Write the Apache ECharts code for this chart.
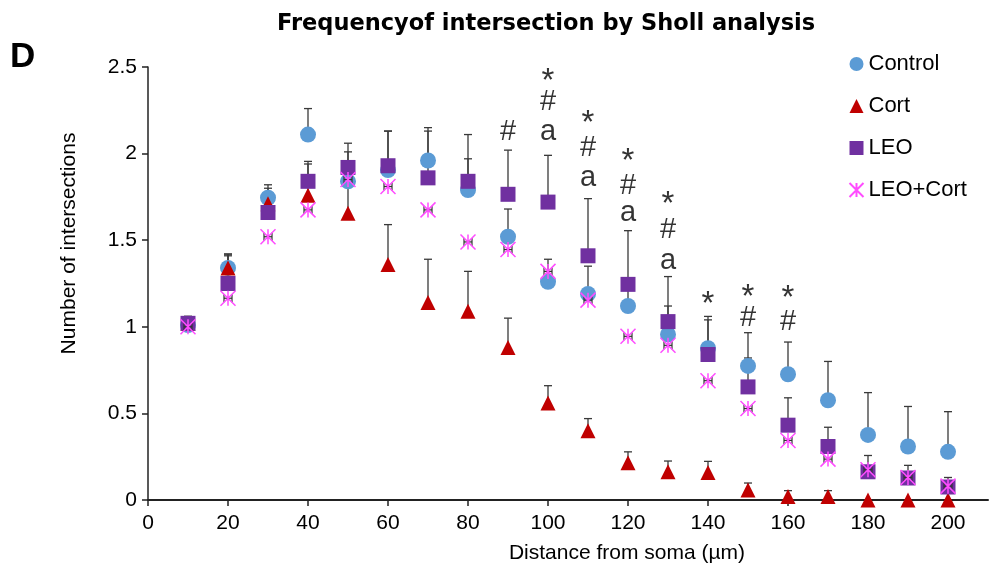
<!DOCTYPE html>
<html>
<head>
<meta charset="utf-8">
<script src="https://cdn.jsdelivr.net/npm/echarts@6/dist/echarts.min.js"></script>
<style>
  html, body { margin: 0; padding: 0; background: #fff; }
  #chart { width: 989px; height: 567px; }
</style>
</head>
<body>
<div id="chart"></div>
<script>
// ---------- data ----------
const distances = [10, 20, 30, 40, 50, 60, 70, 80, 90, 100, 110, 120, 130, 140, 150, 160, 170, 180, 190, 200];
const xTickValues = [0, 20, 40, 60, 80, 100, 120, 140, 160, 180, 200];

const controlMean = [1.01, 1.34, 1.745, 2.11, 1.84, 1.905, 1.96, 1.79, 1.52, 1.26, 1.19, 1.12, 0.956, 0.876, 0.774, 0.726, 0.576, 0.376, 0.309, 0.278];
const controlTop  = [1.06, 1.42, 1.82, 2.26, 2.06, 2.13, 2.15, 2.11, 1.68, 1.39, 1.35, 1.22, 1.12, 1.06, 0.966, 0.912, 0.80, 0.62, 0.54, 0.51];

const cortMean = [1.02, 1.34, 1.71, 1.76, 1.655, 1.36, 1.14, 1.09, 0.88, 0.56, 0.40, 0.215, 0.163, 0.159, 0.058, 0.02, 0.02, 0, 0, 0];
const cortTop  = [1.05, 1.41, 1.78, 1.94, 1.84, 1.59, 1.39, 1.32, 1.05, 0.66, 0.47, 0.278, 0.225, 0.223, 0.098, 0.054, 0.054, 0, 0, 0];

const leoMean = [1.02, 1.25, 1.66, 1.84, 1.92, 1.93, 1.86, 1.84, 1.765, 1.72, 1.41, 1.245, 1.03, 0.84, 0.653, 0.432, 0.309, 0.163, 0.127, 0.075];
const leoTop  = [1.06, 1.42, 1.80, 1.955, 2.01, 2.13, 2.13, 1.97, 2.02, 1.99, 1.74, 1.555, 1.29, 1.04, 0.82, 0.59, 0.42, 0.257, 0.20, 0.13];

const leoCortMean = [1.0, 1.165, 1.52, 1.675, 1.85, 1.81, 1.675, 1.49, 1.446, 1.32, 1.154, 0.945, 0.893, 0.689, 0.528, 0.344, 0.236, 0.175, 0.13, 0.08];

// significance marks
const annoX    = [90, 100, 100, 100, 110, 110, 110, 120, 120, 120, 130, 130, 130, 140, 150, 150, 160, 160];
const annoY    = [2.125, 2.43, 2.30, 2.125, 2.19, 2.03, 1.86, 1.97, 1.815, 1.655, 1.72, 1.56, 1.38, 1.145, 1.187, 1.05, 1.176, 1.03];
const annoText = ['#', '*', '#', 'a', '*', '#', 'a', '*', '#', 'a', '*', '#', 'a', '*', '*', '#', '*', '#'];

const seriesNames = ['Control', 'Cort', 'LEO', 'LEO+Cort'];

// ---------- build ----------
const FONT = '"Liberation Sans", Arial, sans-serif';
const pts = (ys) => distances.map((x, i) => [x, ys[i]]);
const errData = (means, tops) => distances.map((x, i) => [x, means[i], tops[i]]).filter(d => d[2] > d[1]);
const allErr = [].concat(errData(controlMean, controlTop), errData(cortMean, cortTop), errData(leoMean, leoTop));

const chart = echarts.init(document.getElementById('chart'), null, { renderer: 'canvas' });

const option = {
  animation: false,
  backgroundColor: '#ffffff',
  textStyle: { fontFamily: FONT },
  title: [
    { text: 'Frequencyof intersection by Sholl analysis', left: 272, top: 8,
      textStyle: { fontFamily: '"DejaVu Sans", sans-serif', fontWeight: 'bold', fontSize: 22.5, color: '#000' } },
    { text: 'D', left: 5, top: 35,
      textStyle: { fontFamily: FONT, fontWeight: 'bold', fontSize: 35, color: '#000' } }
  ],
  legend: {
    orient: 'vertical', left: 842, top: 48,
    itemWidth: 14, itemHeight: 14, itemGap: 20,
    data: seriesNames,
    textStyle: { fontFamily: FONT, fontSize: 22, color: '#000' }
  },
  grid: { left: 148, right: 1, top: 67, bottom: 67, containLabel: false, outerBoundsMode: 'none' },
  xAxis: {
    type: 'value', min: 0, max: 210,
    name: 'Distance from soma (µm)', nameLocation: 'middle', nameGap: 43,
    nameTextStyle: { fontFamily: FONT, fontSize: 21, color: '#000', padding: [0, 0, 0, 118] },
    axisLine: { lineStyle: { color: '#222', width: 2 } },
    axisTick: { show: true, length: 6, lineStyle: { color: '#222', width: 1.5 }, customValues: xTickValues },
    axisLabel: { fontFamily: FONT, fontSize: 21, color: '#000', margin: 13, customValues: xTickValues },
    splitLine: { show: false }
  },
  yAxis: {
    type: 'value', min: 0, max: 2.5, interval: 0.5,
    name: 'Number of intersections', nameLocation: 'middle', nameGap: 68,
    nameTextStyle: { fontFamily: FONT, fontSize: 21, color: '#000', padding: [0, 0, 0, 80] },
    axisLine: { show: true, lineStyle: { color: '#222', width: 1.5 } },
    axisTick: { show: true, length: 6, lineStyle: { color: '#222', width: 1.5 } },
    axisLabel: { fontFamily: FONT, fontSize: 21, color: '#000', margin: 11 },
    splitLine: { show: false }
  },
  series: [
    {
      type: 'custom', name: 'errors', silent: true, z: 1,
      data: allErr,
      renderItem: (params, api) => {
        const p1 = api.coord([api.value(0), api.value(1)]);
        const p2 = api.coord([api.value(0), api.value(2)]);
        const st = { stroke: '#3a3a3a', lineWidth: 1.3 };
        return { type: 'group', children: [
          { type: 'line', shape: { x1: p1[0], y1: p1[1], x2: p2[0], y2: p2[1] }, style: st },
          { type: 'line', shape: { x1: p2[0] - 4, y1: p2[1], x2: p2[0] + 4, y2: p2[1] }, style: st }
        ]};
      }
    },
    { name: 'Control', type: 'scatter', z: 2, symbol: 'circle', symbolSize: 16,
      itemStyle: { color: '#5B9BD5', opacity: 1 }, data: pts(controlMean) },
    { name: 'Cort', type: 'scatter', z: 3, symbol: 'triangle', symbolSize: 15,
      itemStyle: { color: '#C00000', opacity: 1 }, data: pts(cortMean) },
    { name: 'LEO', type: 'scatter', z: 4, symbol: 'rect', symbolSize: 15,
      itemStyle: { color: '#7030A0', opacity: 1 }, data: pts(leoMean) },
    {
      type: 'custom', name: 'leoCortErr', silent: true, z: 5,
      data: pts(leoCortMean),
      renderItem: (params, api) => {
        const c = api.coord([api.value(0), api.value(1)]);
        const st = { stroke: '#333', lineWidth: 1.2 };
        return { type: 'group', children: [
          { type: 'line', shape: { x1: c[0] - 4, y1: c[1], x2: c[0] + 4, y2: c[1] }, style: st },
          { type: 'line', shape: { x1: c[0] - 4, y1: c[1] - 4, x2: c[0] - 4, y2: c[1] + 4 }, style: st },
          { type: 'line', shape: { x1: c[0] + 4, y1: c[1] - 4, x2: c[0] + 4, y2: c[1] + 4 }, style: st }
        ]};
      }
    },
    { name: 'LEO+Cort', type: 'scatter', z: 6,
      symbol: 'path://M0,0L20,20M20,0L0,20M10,0L10,20', symbolSize: 15,
      itemStyle: { color: 'none', borderColor: '#FF4CFF', borderWidth: 1.5, opacity: 1 },
      data: pts(leoCortMean) },
    {
      type: 'scatter', name: 'annotations', silent: true, z: 7,
      symbolSize: 0,
      data: annoX.map((x, i) => [x, annoY[i], annoText[i]]),
      label: {
        show: true, position: 'inside',
        formatter: (p) => p.data[2] === '*' ? '{s|*}' : p.data[2],
        fontFamily: FONT, fontSize: 29, color: '#000',
        rich: { s: { fontFamily: FONT, fontSize: 33, color: '#000', padding: [6, 0, 0, 0] } }
      }
    }
  ]
};
chart.setOption(option);
</script>
</body>
</html>
